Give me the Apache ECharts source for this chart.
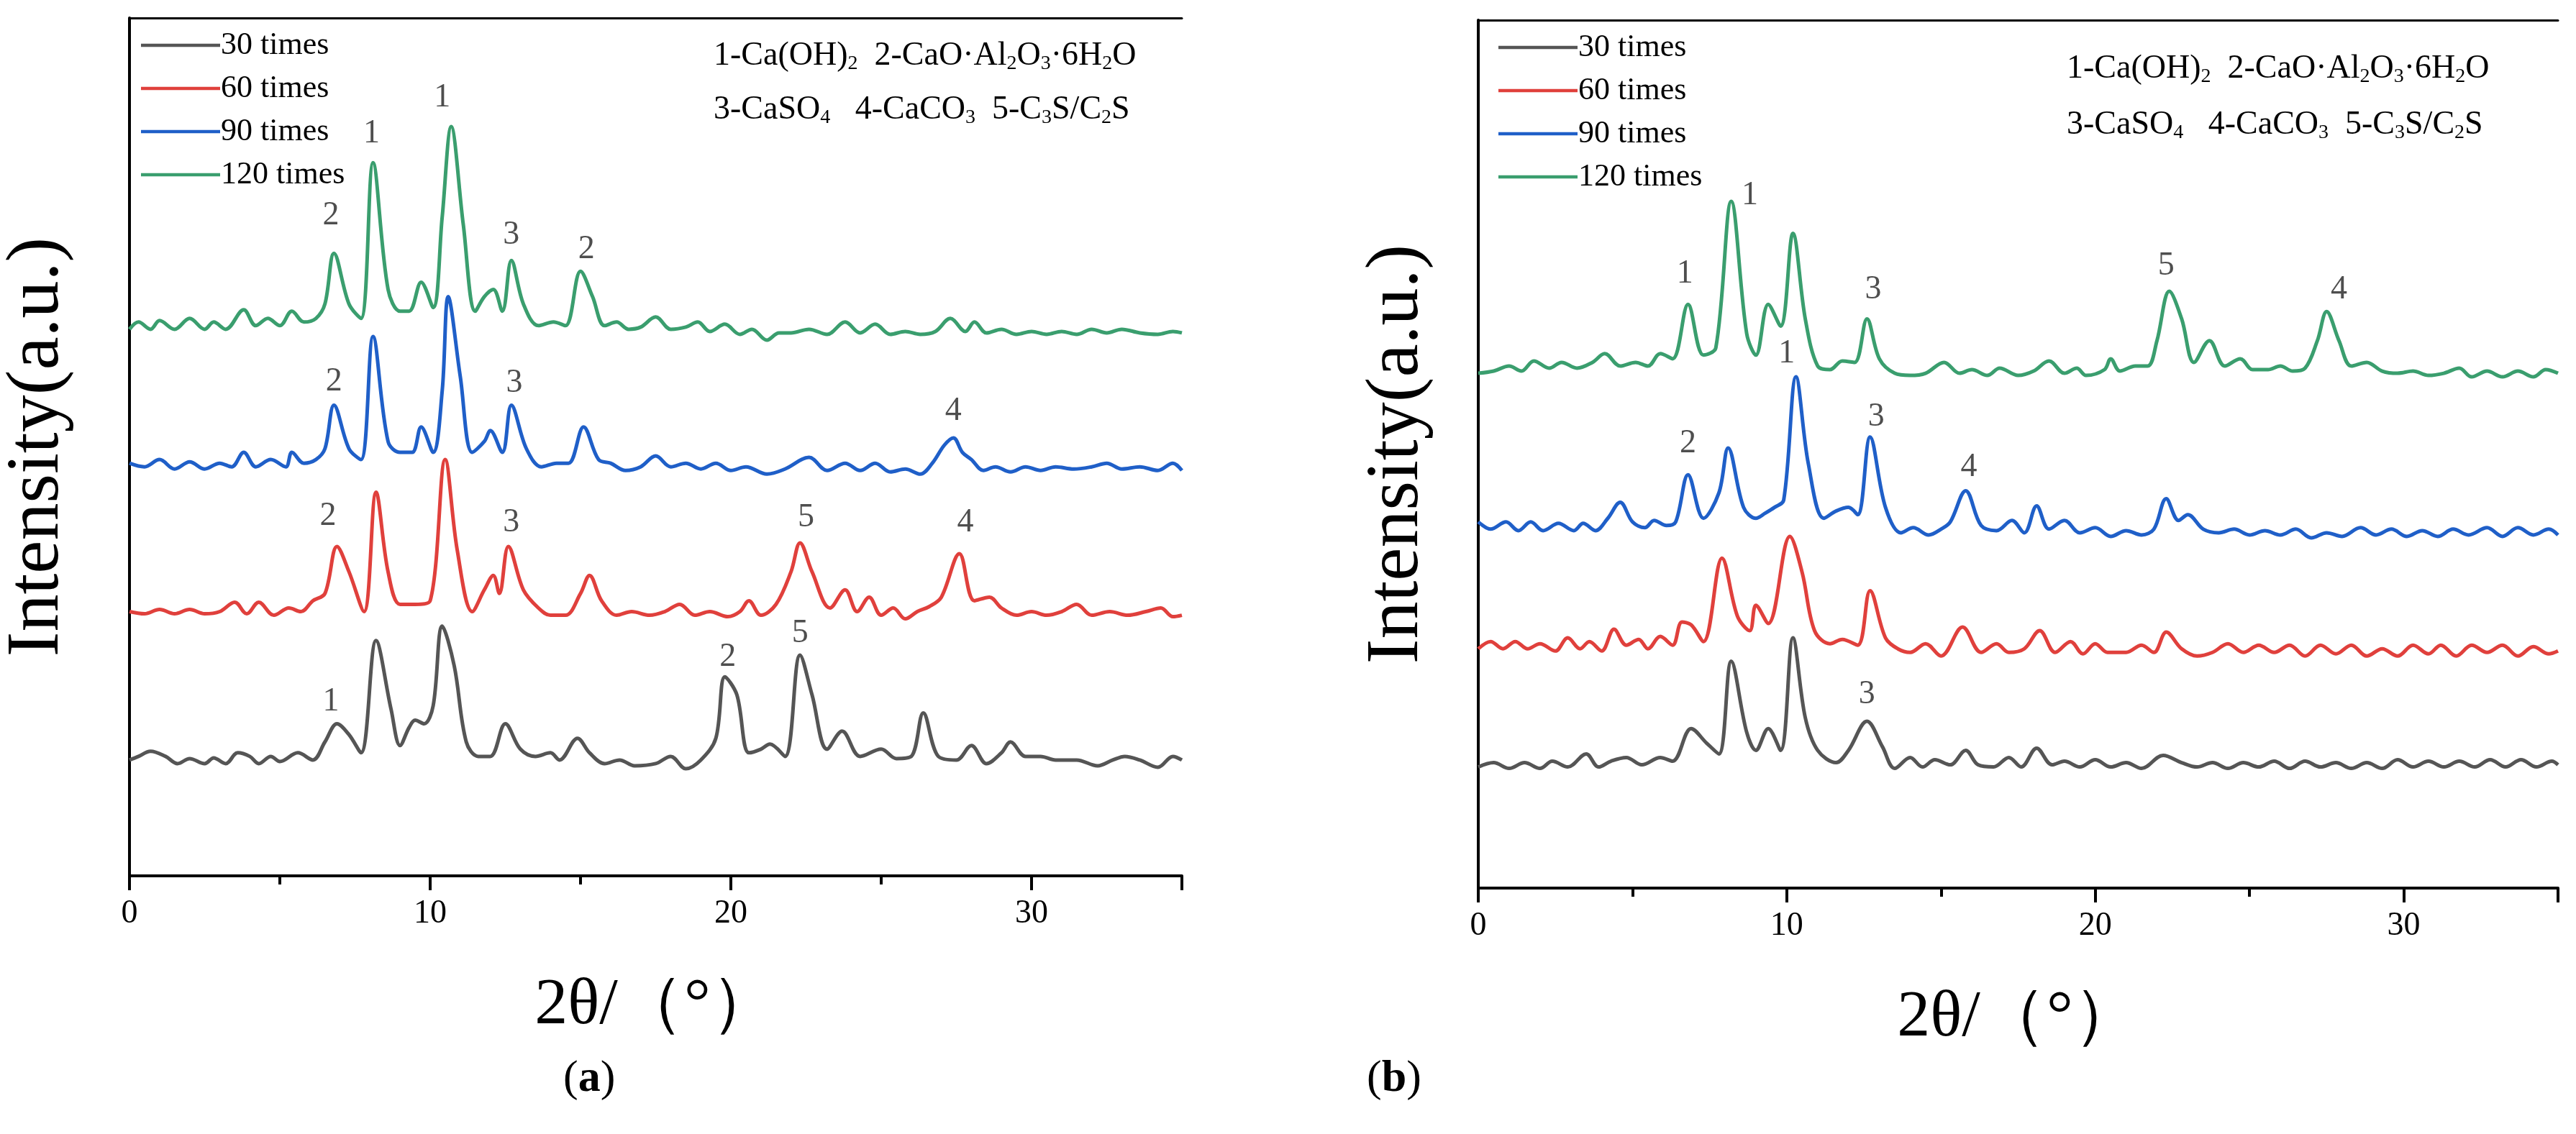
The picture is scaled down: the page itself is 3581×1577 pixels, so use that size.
<!DOCTYPE html>
<html><head><meta charset="utf-8">
<script src="https://cdn.jsdelivr.net/npm/echarts@6/dist/echarts.min.js"></script>
<style>html,body{margin:0;padding:0;background:#fff}#c{width:3581px;height:1577px}</style>
</head><body><div id="c"></div>
<script>
// Readings are [2θ, vertical reading]; vertical reading measured downward, converted below.
const seriesNames = ['30 times','60 times','90 times','120 times'];
const colors = ['#555555','#e0403c','#1f5fc8','#3a9e6e'];

const a30 = [[0,1050],[0.3,1045],[0.7,1038],[1.2,1045],[1.6,1055],[2.0,1048],[2.5,1055],[2.8,1047],[3.2,1055],[3.6,1040],[4.0,1045],[4.3,1055],[4.7,1045],[5.0,1052],[5.6,1040],[6.1,1050],[6.5,1025],[6.9,1000],[7.3,1015],[7.7,1040],[8.2,885],[8.7,980],[9.0,1030],[9.3,1005],[9.5,995],[9.8,1000],[10.1,975],[10.4,865],[10.8,920],[11.2,1025],[11.6,1045],[12.0,1045],[12.5,1000],[13.0,1035],[13.5,1045],[14.0,1040],[14.3,1050],[14.9,1020],[15.3,1040],[15.8,1055],[16.3,1050],[16.8,1058],[17.5,1055],[18.0,1045],[18.5,1062],[19.0,1050],[19.5,1020],[19.8,935],[20.2,960],[20.6,1040],[21.0,1035],[21.3,1028],[21.8,1045],[22.3,905],[22.7,960],[23.2,1035],[23.7,1010],[24.3,1045],[25.0,1035],[25.5,1048],[26.0,1045],[26.4,985],[26.9,1045],[27.5,1050],[28.0,1030],[28.5,1055],[29.0,1040],[29.3,1025],[29.8,1045],[30.3,1045],[30.8,1050],[31.5,1050],[32.2,1058],[32.7,1050],[33.1,1045],[33.6,1050],[34.2,1060],[34.7,1045],[35,1050]];
const a60 = [[0,845],[0.5,848],[1.0,842],[1.5,848],[2.0,842],[2.5,848],[3.0,845],[3.5,832],[3.9,848],[4.3,832],[4.8,850],[5.3,840],[5.7,845],[6.1,830],[6.5,820],[6.9,755],[7.3,790],[7.8,845],[8.2,680],[8.6,790],[9.0,835],[9.5,835],[10.0,830],[10.5,635],[10.9,760],[11.4,845],[11.8,815],[12.1,795],[12.3,820],[12.6,755],[13.1,815],[13.6,840],[14.0,850],[14.5,850],[15.0,820],[15.3,795],[15.7,830],[16.2,850],[16.7,845],[17.3,850],[17.8,845],[18.3,835],[18.8,850],[19.3,845],[19.9,852],[20.3,845],[20.6,830],[21.0,850],[21.5,835],[22.0,790],[22.3,750],[22.7,790],[23.3,840],[23.8,815],[24.2,845],[24.6,825],[25.0,850],[25.4,840],[25.8,855],[26.2,845],[26.6,838],[27.0,825],[27.6,765],[28.1,830],[28.6,825],[29.0,840],[29.5,850],[30.0,845],[30.5,850],[31.0,845],[31.5,835],[32.0,850],[32.6,845],[33.2,850],[33.8,845],[34.3,840],[34.7,852],[35,850]];
const a90 = [[0,640],[0.5,645],[1.0,635],[1.5,648],[2.0,638],[2.5,648],[3.0,640],[3.4,645],[3.8,625],[4.2,645],[4.7,635],[5.2,645],[5.4,625],[5.8,640],[6.2,635],[6.5,620],[6.8,560],[7.3,620],[7.7,635],[8.1,465],[8.6,610],[9.0,625],[9.4,625],[9.7,590],[10.1,625],[10.4,540],[10.6,410],[11.0,520],[11.4,625],[11.8,610],[12.0,595],[12.4,625],[12.7,560],[13.2,620],[13.7,645],[14.2,640],[14.6,640],[15.1,590],[15.6,635],[16.0,640],[16.5,650],[17.0,645],[17.5,630],[18.0,645],[18.5,640],[19.0,648],[19.5,640],[20.0,650],[20.5,645],[21.2,655],[21.8,648],[22.6,632],[23.2,650],[23.8,640],[24.3,650],[24.8,640],[25.3,652],[25.8,648],[26.3,655],[26.7,640],[27.1,615],[27.4,605],[27.7,625],[28.0,635],[28.4,650],[28.8,645],[29.3,652],[29.8,645],[30.3,650],[30.8,645],[31.4,648],[32.0,645],[32.5,640],[33.0,648],[33.6,645],[34.2,650],[34.7,640],[35,650]];
const a120 = [[0,455],[0.3,445],[0.7,455],[1.0,443],[1.5,455],[2.0,440],[2.5,455],[2.8,445],[3.2,455],[3.8,428],[4.2,450],[4.6,440],[5.0,450],[5.4,430],[5.8,445],[6.2,440],[6.5,420],[6.8,350],[7.3,420],[7.7,440],[8.1,225],[8.6,400],[9.0,430],[9.3,430],[9.7,390],[10.1,425],[10.4,300],[10.7,175],[11.1,310],[11.5,430],[11.8,410],[12.1,400],[12.4,430],[12.7,360],[13.1,420],[13.6,450],[14.1,445],[14.5,450],[15.0,375],[15.4,410],[15.8,450],[16.2,445],[16.6,455],[17.0,452],[17.5,438],[18.0,455],[18.5,452],[18.9,445],[19.3,458],[19.8,448],[20.3,462],[20.7,455],[21.2,470],[21.6,460],[22.0,460],[22.6,455],[23.2,462],[23.8,445],[24.3,460],[24.8,448],[25.3,462],[25.8,458],[26.3,462],[26.8,458],[27.3,440],[27.8,458],[28.1,445],[28.5,460],[29.0,455],[29.5,462],[30.0,458],[30.5,462],[31.0,458],[31.5,462],[32.0,455],[32.5,460],[33.0,455],[33.6,460],[34.2,462],[34.7,458],[35,460]];

const b30 = [[0,1058],[0.5,1052],[1.0,1060],[1.5,1052],[2.0,1060],[2.4,1050],[2.9,1058],[3.5,1040],[3.9,1058],[4.3,1050],[4.8,1045],[5.3,1055],[5.9,1045],[6.3,1050],[6.9,1005],[7.4,1025],[7.8,1040],[8.2,912],[8.7,1010],[9.0,1035],[9.4,1005],[9.8,1035],[10.2,880],[10.6,990],[11.0,1035],[11.6,1052],[12.0,1035],[12.6,995],[13.1,1030],[13.5,1060],[14.0,1045],[14.4,1058],[14.8,1048],[15.3,1055],[15.8,1035],[16.2,1055],[16.7,1058],[17.2,1045],[17.6,1058],[18.1,1032],[18.6,1055],[19.0,1050],[19.5,1058],[20.0,1048],[20.5,1058],[21.0,1052],[21.5,1060],[22.2,1042],[22.8,1052],[23.3,1058],[23.8,1052],[24.3,1060],[24.8,1052],[25.3,1058],[25.8,1050],[26.3,1060],[26.8,1050],[27.3,1058],[27.8,1052],[28.3,1060],[28.8,1052],[29.3,1060],[29.8,1048],[30.3,1058],[30.8,1050],[31.3,1058],[31.8,1050],[32.3,1058],[32.8,1048],[33.3,1058],[33.8,1048],[34.3,1058],[34.8,1050],[35,1055]];
const b60 = [[0,895],[0.4,885],[0.8,895],[1.2,885],[1.6,895],[2.0,888],[2.5,898],[2.9,880],[3.3,895],[3.6,885],[4.0,898],[4.4,868],[4.8,890],[5.2,882],[5.5,895],[5.9,878],[6.3,890],[6.6,858],[6.9,862],[7.3,885],[7.9,770],[8.4,850],[8.8,870],[9.0,835],[9.4,860],[10.1,740],[10.5,790],[10.9,870],[11.4,888],[11.8,882],[12.3,890],[12.7,815],[13.2,880],[13.6,895],[14.0,900],[14.5,888],[15.0,905],[15.7,865],[16.3,900],[16.8,888],[17.2,900],[17.7,895],[18.2,870],[18.7,900],[19.2,885],[19.6,902],[20.0,888],[20.4,900],[21.0,900],[21.5,890],[21.9,900],[22.3,872],[22.8,895],[23.3,905],[23.8,900],[24.3,888],[24.8,900],[25.3,890],[25.8,900],[26.3,890],[26.8,905],[27.3,890],[27.8,902],[28.3,890],[28.8,905],[29.3,895],[29.8,905],[30.3,890],[30.8,902],[31.2,890],[31.7,905],[32.2,890],[32.7,900],[33.2,890],[33.7,905],[34.2,892],[34.7,902],[35,898]];
const b90 = [[0,720],[0.4,730],[0.9,720],[1.3,732],[1.7,720],[2.1,732],[2.6,722],[3.1,732],[3.4,722],[3.8,732],[4.2,715],[4.6,693],[5.0,720],[5.4,728],[5.7,718],[6.1,725],[6.4,720],[6.8,655],[7.3,715],[7.8,680],[8.1,618],[8.6,700],[9.0,715],[9.3,708],[9.6,700],[9.9,690],[10.3,520],[10.7,640],[11.2,715],[11.6,705],[12.0,700],[12.3,710],[12.7,603],[13.2,700],[13.7,735],[14.1,728],[14.6,738],[15.0,730],[15.3,720],[15.8,677],[16.3,725],[16.8,732],[17.3,718],[17.7,735],[18.1,698],[18.5,730],[19.0,718],[19.5,735],[20.0,728],[20.5,740],[21.0,732],[21.5,738],[21.9,730],[22.3,688],[22.7,718],[23.0,710],[23.5,730],[24.0,735],[24.5,730],[25.0,738],[25.5,732],[26.0,738],[26.5,730],[27.0,742],[27.5,735],[28.0,740],[28.6,728],[29.1,738],[29.6,730],[30.1,740],[30.6,732],[31.1,740],[31.6,730],[32.1,738],[32.7,728],[33.2,740],[33.7,728],[34.2,738],[34.7,730],[35,738]];
const b120 = [[0,515],[0.5,512],[1.0,505],[1.4,512],[1.8,498],[2.3,508],[2.7,500],[3.2,508],[3.7,500],[4.1,488],[4.6,505],[5.1,500],[5.5,505],[5.9,488],[6.3,495],[6.8,420],[7.3,490],[7.7,480],[8.2,278],[8.7,460],[9.0,490],[9.4,420],[9.8,450],[10.2,322],[10.6,440],[11.0,505],[11.4,510],[11.8,498],[12.2,500],[12.6,440],[13.0,495],[13.5,515],[14.0,518],[14.5,515],[15.1,500],[15.6,515],[16.0,510],[16.5,518],[16.9,508],[17.5,518],[18.0,512],[18.5,498],[19.0,515],[19.4,508],[19.7,518],[20.3,510],[20.5,495],[20.8,512],[21.3,505],[21.7,505],[22.0,470],[22.4,402],[22.8,440],[23.2,500],[23.7,470],[24.2,505],[24.7,495],[25.1,510],[25.6,510],[26.0,505],[26.4,512],[26.8,508],[27.2,470],[27.5,430],[27.9,470],[28.3,505],[28.8,500],[29.3,512],[29.8,515],[30.3,512],[30.8,518],[31.3,515],[31.8,508],[32.2,520],[32.7,512],[33.2,520],[33.7,512],[34.2,520],[34.6,510],[35,515]];

const aLabels = [[6.7,298,'2'],[8.05,185,'1'],[10.4,135,'1'],[12.7,325,'3'],[15.2,345,'2'],
  [6.8,528,'2'],[12.8,530,'3'],[27.4,568,'4'],
  [6.6,713,'2'],[12.7,722,'3'],[22.5,715,'5'],[27.8,722,'4'],
  [6.7,970,'1'],[19.9,908,'2'],[22.3,875,'5']];
const bLabels = [[6.7,378,'1'],[8.8,270,'1'],[12.8,400,'3'],[22.3,367,'5'],[27.9,400,'4'],
  [10.0,488,'1'],[6.8,612,'2'],[12.9,575,'3'],[15.9,645,'4'],[12.6,958,'3']];
const xTicks = [0,10,20,30];

const REF = 1250;
const conv = arr => arr.map(p => [p[0], REF - p[1]]);
const serif = 'Liberation Serif';
const chart = echarts.init(document.getElementById('c'));

const grids = [
  {left:163, top:25, width:1480, height:1193, ymin:REF-1210, ymax:REF-25},
  {left:2055, top:28, width:1501, height:1207, ymin:REF-1225, ymax:REF-28}
];
const xAxis = [], yAxis = [], series = [];
grids.forEach((g,i)=>{
  xAxis.push({gridIndex:i, type:'value', min:0, max:35, interval:10,
    axisLine:{show:true,onZero:false,lineStyle:{color:'#000',width:4}},
    axisTick:{show:true,length:20,lineStyle:{color:'#000',width:4}},
    minorTick:{show:true,splitNumber:2,length:12,lineStyle:{color:'#000',width:4}},
    axisLabel:{fontFamily:serif,fontSize:46,color:'#000',margin:30,showMaxLabel:false,
      formatter:v=>xTicks.includes(v)?String(v):''},
    splitLine:{show:false},
    name:'2θ/（°）', nameLocation:'middle', nameGap:135,
    nameTextStyle:{fontFamily:serif,fontSize:92,color:'#000'}});
  xAxis.push({gridIndex:i, type:'value', min:0, max:35, position:'top',
    axisLine:{show:true,lineStyle:{color:'#000',width:3}}, axisTick:{show:false},
    axisLabel:{show:false}, splitLine:{show:false}});
  yAxis.push({gridIndex:i, type:'value', min:g.ymin, max:g.ymax,
    axisLine:{show:true,lineStyle:{color:'#000',width:4}}, axisTick:{show:false},
    axisLabel:{show:false}, splitLine:{show:false},
    name:'Intensity(a.u.)', nameLocation:'middle', nameGap:i===0?75:60,
    nameTextStyle:{fontFamily:serif,fontSize:104,color:'#000'}});
  yAxis.push({gridIndex:i, type:'value', min:g.ymin, max:g.ymax, position:'right',
    axisLine:{show:true,lineStyle:{color:'#000',width:3}}, axisTick:{show:false},
    axisLabel:{show:false}, splitLine:{show:false}});
});
const sets = [[a30,a60,a90,a120],[b30,b60,b90,b120]];
sets.forEach((set,i)=>{
  set.forEach((d,k)=>{
    series.push({type:'line', name:seriesNames[k], xAxisIndex:2*i, yAxisIndex:2*i,
      data:conv(d), smooth:0.35, showSymbol:false, lineStyle:{color:colors[k],width:5},
      itemStyle:{color:colors[k]}});
  });
  series.push({type:'scatter', xAxisIndex:2*i, yAxisIndex:2*i, symbolSize:0,
    data:(i===0?aLabels:bLabels).map(p=>[p[0],REF-p[1],p[2]]),
    label:{show:true, formatter:p=>p.value[2], fontFamily:serif, fontSize:46, color:'#222', position:'inside'}});
});
const rich = {n:{fontSize:46,fontFamily:serif},s:{fontSize:28,fontFamily:serif,padding:[22,0,0,0]}};
chart.setOption({
  animation:false,
  grid:grids.map(g=>({left:g.left,top:g.top,width:g.width,height:g.height})),
  xAxis, yAxis, series,
  legend:[
    {data:seriesNames, left:191, top:36, orient:'vertical', itemGap:16, itemWidth:110, itemHeight:40, icon:'path://M0,18 H100 V22 H0 Z',
      textStyle:{fontFamily:serif,fontSize:44,color:'#000',padding:[0,0,0,-4]}},
    {data:seriesNames, left:2078, top:39, orient:'vertical', itemGap:16, itemWidth:110, itemHeight:40, icon:'path://M0,18 H100 V22 H0 Z',
      textStyle:{fontFamily:serif,fontSize:44,color:'#000',padding:[0,0,0,-4]}}
  ],
  graphic:[
    {type:'text', left:992, top:55, style:{text:'{n|1-Ca(OH)}{s|2}{n|  2-CaO·Al}{s|2}{n|O}{s|3}{n|·6H}{s|2}{n|O}', rich}},
    {type:'text', left:992, top:130, style:{text:'{n|3-CaSO}{s|4}{n|   4-CaCO}{s|3}{n|  5-C}{s|3}{n|S/C}{s|2}{n|S}', rich}},
    {type:'text', left:2873, top:73, style:{text:'{n|1-Ca(OH)}{s|2}{n|  2-CaO·Al}{s|2}{n|O}{s|3}{n|·6H}{s|2}{n|O}', rich}},
    {type:'text', left:2873, top:151, style:{text:'{n|3-CaSO}{s|4}{n|   4-CaCO}{s|3}{n|  5-C}{s|3}{n|S/C}{s|2}{n|S}', rich}},
    {type:'text', left:783, top:1470, style:{text:'{p|(}{b|a}{p|)}', rich:{p:{fontSize:62,fontFamily:serif},b:{fontSize:62,fontFamily:serif,fontWeight:'bold'}}}},
    {type:'text', left:1900, top:1470, style:{text:'{p|(}{b|b}{p|)}', rich:{p:{fontSize:62,fontFamily:serif},b:{fontSize:62,fontFamily:serif,fontWeight:'bold'}}}}
  ]
});
</script></body></html>
